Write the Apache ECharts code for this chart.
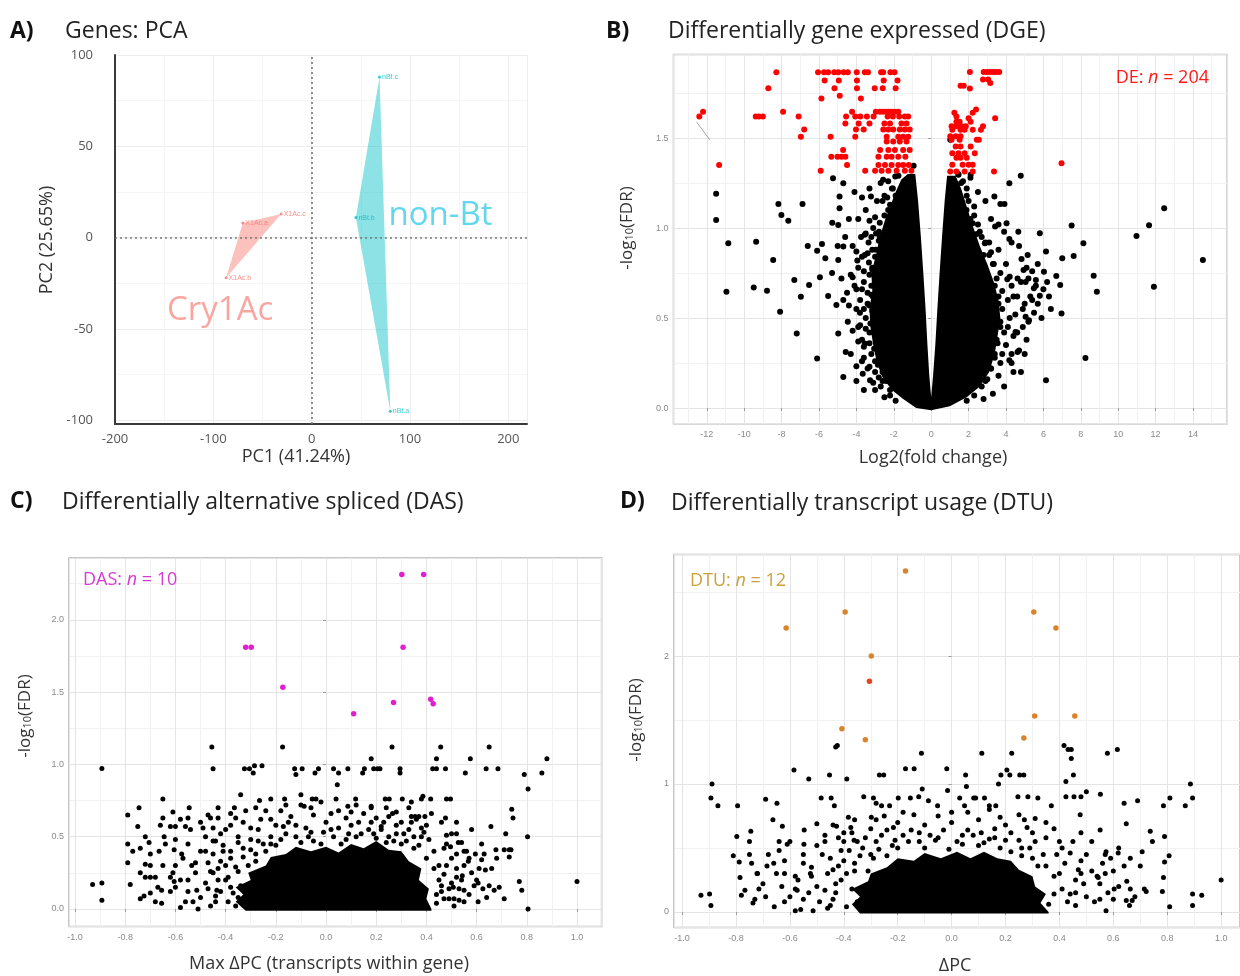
<!DOCTYPE html>
<html><head><meta charset="utf-8">
<script src="https://cdn.jsdelivr.net/npm/echarts@6/dist/echarts.min.js"></script>
<style>html,body{margin:0;padding:0;background:#fff}#c{width:1240px;height:976px}</style>
</head><body><div id="c"></div>
<script>
// ---------- Panel A: PCA ----------
const pcaCry1Ac = [[-70,8,'X1Ac.a'],[-31,13,'X1Ac.c'],[-87,-22,'X1Ac.b']];
const pcaNonBt = [[69,88,'nBt.c'],[45,11,'nBt.b'],[80,-95,'nBt.a']];
const pcaGroupLabels = [[-93,-40,'Cry1Ac'],[131,12,'non-Bt']];
const pcaXTicks = [-200,-100,0,100,200];
const pcaYTicks = [-100,-50,0,50,100];

// ---------- Panel B: DGE volcano ----------
const dgeCore = [[0,-0.012],[-0.8,0.0],[-1.5,0.05],[-2.1,0.1],[-2.6,0.17],[-2.9,0.25],[-3.1,0.35],[-3.25,0.45],[-3.3,0.55],[-3.15,0.65],[-3.2,0.75],[-2.95,0.85],[-2.75,0.95],[-2.45,1.05],[-2.2,1.12],[-1.9,1.2],[-1.6,1.27],[-1.25,1.3],[-0.85,1.3],
[-0.7,1.15],[-0.55,0.95],[-0.42,0.75],[-0.3,0.55],[-0.2,0.35],[-0.1,0.18],[0,0.06],
[0.1,0.18],[0.22,0.35],[0.33,0.55],[0.45,0.75],[0.58,0.95],[0.72,1.15],[0.85,1.29],
[1.3,1.29],[1.6,1.22],[1.9,1.12],[2.2,1.02],[2.6,0.9],[3.0,0.8],[3.35,0.7],[3.6,0.6],[3.7,0.5],[3.55,0.4],[3.4,0.3],[3.1,0.2],[2.6,0.12],[1.9,0.06],[1.0,0.01]];
const dgeBlack = [
[-11.5,1.19],[-11.5,1.045],[-10.85,0.915],[-10.95,0.646],[-9.36,0.924],[-9.49,0.67],[-8.78,0.652],[-8.45,0.822],[-8.17,1.134],[-8.01,1.073],[-7.64,1.04],[-8.08,0.535],[-7.32,0.711],[-6.88,1.134],[-7.19,0.414],[-6.97,0.618],[-6.53,0.683],[-6.6,0.9],[-6.1,0.874],[-5.95,0.726],[-5.84,0.911],[-5.66,0.832],[-6.1,0.275],[-5.25,1.277],[-4.7,1.249],[-4.9,1.175],[-4.9,1.11],[-5.29,1.03],[-4.97,1.017],[-4.7,0.897],[-4.97,0.822],[-5.51,0.622],[-5.07,0.572],[-4.97,0.414],[-4.57,0.312],[-4.7,0.173],[-4.46,0.479],[-4.0,0.232],[-3.66,0.191],[-4.2,0.726],[-3.55,0.962],[-3.33,0.808],[-3.81,0.529],[-3.22,1.175],[-3.11,0.618],[-3.55,0.358],[-3.05,0.447],[-2.79,0.98],[-3.27,0.154],[-2.57,1.268],[-1.92,1.286],[-0.94,1.346],[1.02,1.49],[1.46,1.296],[2.11,1.296],
[1.89,1.1],[2.22,1.027],[2.44,0.967],[2.87,0.915],[3.2,0.865],[3.38,1.175],[3.7,1.134],[3.92,1.134],[4.18,1.249],[4.03,1.027],[4.18,0.939],[3.42,1.008],[4.79,1.29],[4.66,0.98],[4.83,0.828],[5.16,0.85],[4.94,0.767],[4.07,0.715],[5.49,0.665],[5.81,0.624],[5.81,0.971],[6.14,0.869],[6.03,0.757],[6.69,0.733],[6.9,0.683],[6.97,0.525],[7.01,0.832],[7.51,1.014],[7.62,0.845],[8.14,0.915],[8.69,0.735],[8.86,0.646],[8.25,0.278],[6.14,0.154],[10.98,0.956],[11.65,1.015],[11.91,0.674],[12.46,1.11],[14.53,0.822],[5.05,0.507],[5.23,0.488],[4.62,0.312],[4.18,0.265],[4.51,0.423],[5.05,0.7],[5.6,0.711],[4.62,0.72],
[-4.1,1.2],[-3.9,1.05],[-3.7,1.17],[-3.5,1.1],[-3.3,1.22],[-3.1,1.0],[-2.9,1.15],[-2.7,1.25],[-2.5,1.18],[-2.3,1.1],[-2.1,1.22],[-1.9,1.18],
[-4.2,0.9],[-3.95,0.82],[-3.75,0.95],[-3.55,0.85],[-3.35,0.92],[-3.15,0.78],[-2.95,0.88],[-2.75,0.95],[-2.55,0.82],[-2.4,0.92],[-2.25,1.0],[-2.05,0.95],
[-4.0,0.66],[-3.8,0.6],[-3.6,0.7],[-3.4,0.58],[-3.2,0.68],[-3.0,0.75],[-2.8,0.62],[-2.6,0.7],[-2.45,0.65],
[-3.9,0.45],[-3.7,0.38],[-3.5,0.5],[-3.3,0.42],[-3.1,0.52],[-2.9,0.4],[-2.7,0.48],[-2.55,0.36],
[-3.6,0.28],[-3.4,0.22],[-3.2,0.3],[-3.0,0.2],[-2.8,0.27],[-2.6,0.2],[-2.4,0.15],[-2.2,0.1],[-3.0,0.1],[-2.7,0.12],
[1.6,1.25],[1.9,1.18],[2.1,1.28],[2.3,1.12],[2.5,1.2],[2.9,1.15],[3.2,1.05],
[1.9,0.95],[2.1,1.05],[2.4,0.88],[2.6,0.98],[2.8,0.85],[3.1,0.92],[3.3,0.8],[3.6,0.88],
[2.6,0.7],[2.8,0.62],[3.0,0.72],[3.2,0.6],[3.4,0.68],[3.6,0.58],[3.8,0.65],[4.1,0.6],[4.3,0.68],
[2.7,0.5],[2.9,0.42],[3.1,0.52],[3.3,0.45],[3.5,0.38],[3.7,0.48],[3.9,0.42],[4.2,0.5],[4.4,0.4],
[2.6,0.3],[2.8,0.25],[3.0,0.32],[3.2,0.22],[3.4,0.3],[3.7,0.25],[2.4,0.18],[2.2,0.12],[2.9,0.15],
[4.6,0.62],[4.8,0.7],[5.0,0.58],[5.2,0.72],[5.4,0.6],[5.6,0.68],[4.9,0.45],[5.1,0.38],[4.7,0.32],[4.3,0.25],
[-2.3,1.26],[-2.05,1.22],[-1.75,1.29],[-2.6,1.15],[-2.35,1.17],[-2.2,1.13],[-3.0,1.06],[-2.75,1.03],[-2.5,1.07],[-3.3,1.04],
[-3.2,0.95],[-2.95,0.97],[-2.8,0.93],[-3.5,0.97],[-3.4,0.86],[-3.15,0.88],[-3.0,0.84],[-3.7,0.84],[-4.0,0.87],
[-3.6,0.76],[-3.3,0.74],[-3.15,0.77],[-3.9,0.78],[-4.3,0.74],[-3.7,0.66],[-3.4,0.64],[-3.2,0.63],[-4.1,0.68],[-4.5,0.64],
[-3.6,0.55],[-3.3,0.57],[-3.15,0.54],[-4.0,0.55],[-4.4,0.57],[-3.5,0.44],[-3.25,0.47],[-3.1,0.42],[-3.8,0.46],[-4.2,0.43],
[-3.3,0.36],[-3.05,0.33],[-3.6,0.34],[-3.9,0.37],[-3.0,0.26],[-2.85,0.24],[-3.3,0.23],[-3.7,0.26],
[-2.6,0.15],[-2.8,0.17],[-3.1,0.14],[-2.2,0.07],[-2.5,0.06],[-1.9,0.04],
[-4.6,0.95],[-4.4,1.05],[-4.8,0.72],[-5.0,0.9],[-4.3,0.3],[-4.0,0.15],[-3.6,0.1],[-5.3,0.75],[-4.7,0.6],
[1.45,1.3],[1.7,1.26],[1.9,1.22],[2.0,1.15],[2.3,1.07],[2.5,1.02],[2.7,0.95],[2.9,0.92],[3.1,0.85],[3.35,0.8],[3.5,0.72],[3.7,0.75],[3.6,0.62],[3.8,0.55],[3.7,0.45],[3.55,0.36],[3.4,0.28],[3.2,0.22],[3.0,0.16],[2.7,0.12],[2.3,0.07],[1.9,0.04],
[4.0,0.8],[4.2,0.73],[4.4,0.62],[4.5,0.52],[4.1,0.45],[4.0,0.35],[3.8,0.3],[3.6,0.18],[4.3,0.3],[4.6,0.42],[4.9,0.55],[5.2,0.48],[5.5,0.53],[5.7,0.58],[5.9,0.5],[5.3,0.62],[4.7,0.9],[4.3,0.92],[3.9,0.98],[3.6,1.02],[5.1,0.78],[5.4,0.76],[5.7,0.8],[6.0,0.66],[6.3,0.62],[6.4,0.55],[6.2,0.7],[5.0,0.3],[4.4,0.2],[4.8,0.2],[3.9,0.12],[3.3,0.08],[2.8,0.05]
];
const dgeRed = [
[-8.28,1.865],[-6.05,1.865],[-5.73,1.865],[-5.51,1.865],[-5.18,1.865],[-4.97,1.865],[-4.68,1.865],[-4.46,1.865],[-3.98,1.865],[-3.55,1.865],[-3.38,1.865],[-2.68,1.865],[-2.57,1.865],[-2.18,1.865],[-1.96,1.865],
[-5.7,1.82],[-4.94,1.82],[-3.97,1.82],[-2.54,1.82],[-1.8,1.82],
[-8.71,1.776],[-5.17,1.776],[-3.97,1.776],[-3.02,1.776],[-2.59,1.776],[-1.9,1.776],
[-4.89,1.735],[-5.87,1.72],[-3.76,1.72],
[-12.2,1.646],[-7.92,1.646],[-4.23,1.646],[-2.96,1.646],[-2.73,1.646],[-2.56,1.646],[-2.38,1.646],[-2.26,1.646],[-2.12,1.646],[-1.94,1.646],[-1.76,1.646],
[-12.4,1.62],[-9.38,1.62],[-9.21,1.62],[-9.0,1.62],[-7.09,1.62],[-4.55,1.62],[-4.06,1.62],[-3.79,1.62],[-3.44,1.62],[-3.08,1.62],[-2.33,1.62],[-2.05,1.62],[-1.71,1.62],[-1.41,1.62],[-1.23,1.62],
[-4.59,1.58],[-3.88,1.58],[-3.3,1.58],[-2.5,1.58],[-2.2,1.58],[-1.59,1.58],[-1.32,1.58],
[-6.79,1.548],[-4.02,1.548],[-3.61,1.548],[-2.56,1.548],[-2.29,1.548],[-2.03,1.548],[-1.68,1.548],[-1.41,1.548],[-1.15,1.548],
[-6.97,1.507],[-5.38,1.507],[-4.06,1.507],[-2.38,1.507],[-1.76,1.507],[-1.5,1.507],[-1.23,1.507],
[-2.38,1.48],[-2.03,1.48],[-1.68,1.48],[-1.32,1.48],
[-4.71,1.433],[-2.73,1.433],[-2.29,1.433],[-1.94,1.433],[-1.5,1.433],[-1.15,1.433],
[-5.34,1.396],[-5.01,1.396],[-4.8,1.396],[-4.59,1.396],[-2.82,1.396],[-2.38,1.396],[-2.12,1.396],[-1.76,1.396],[-1.38,1.396],
[-11.34,1.35],[-4.5,1.35],[-2.82,1.35],[-2.47,1.35],[-2.12,1.35],[-1.76,1.35],[-1.5,1.35],[-1.2,1.35],
[-5.91,1.318],[-3.53,1.318],[-3.0,1.318],[-2.65,1.318],[-2.29,1.318],[-1.85,1.318],[-1.41,1.318],[-1.06,1.318],
[2.07,1.867],[2.81,1.867],[2.98,1.867],[3.16,1.867],[3.33,1.867],[3.49,1.867],[3.64,1.867],
[2.77,1.825],[3.05,1.825],[3.16,1.806],[1.57,1.79],[1.74,1.79],[2.07,1.775],[2.4,1.658],
[1.24,1.64],[1.35,1.62],[2.0,1.61],[2.22,1.64],[3.42,1.61],
[1.35,1.59],[1.52,1.59],[2.11,1.59],
[1.09,1.565],[1.35,1.565],[1.63,1.565],[1.85,1.565],[2.77,1.565],
[1.13,1.546],[1.57,1.546],[1.79,1.546],[2.22,1.546],[2.66,1.546],
[1.02,1.51],[1.31,1.51],[1.57,1.51],
[1.09,1.49],[1.52,1.49],[2.44,1.49],[2.55,1.49],
[1.31,1.453],[1.57,1.453],[2.11,1.453],
[1.13,1.416],[1.46,1.416],[1.79,1.416],[2.33,1.416],
[1.35,1.39],[1.57,1.39],[1.9,1.39],
[1.13,1.351],[1.68,1.351],[2.0,1.351],[2.22,1.351],
[1.02,1.314],[1.35,1.314],[1.79,1.314],[2.22,1.314],[3.36,1.314],
[6.97,1.36]
];
const dgeLeader = [[-12.55,1.59],[-11.84,1.49]];

// ---------- Panel C: DAS ----------
const dasCore = [[-0.32,-0.012],[-0.36,0.05],[-0.33,0.1],[-0.36,0.15],[-0.3,0.2],[-0.31,0.25],[-0.24,0.3],[-0.22,0.36],[-0.16,0.38],[-0.12,0.43],[-0.06,0.4],[0.0,0.43],[0.05,0.39],[0.1,0.45],[0.15,0.42],[0.2,0.47],[0.25,0.41],[0.3,0.4],[0.33,0.33],[0.38,0.28],[0.37,0.2],[0.41,0.14],[0.4,0.07],[0.42,0.0],[0.42,-0.012]];
const dasBlack = [
[-0.893,0.971],[-0.893,0.18],[-0.893,0.06],[-0.93,0.17],[-0.79,0.65],[-0.79,0.45],[-0.79,0.32],[-0.78,0.17],[-0.745,0.70],[-0.75,0.57],[-0.74,0.42],[-0.72,0.31],[-0.705,0.46],[-0.72,0.22],[-0.70,0.22],[-0.68,0.22],[-0.74,0.07],[-0.725,0.09],[-0.70,0.11],[-0.665,0.40],[-0.65,0.76],[-0.65,0.63],[-0.645,0.50],[-0.655,0.13],[-0.655,0.04],[-0.62,0.57],[-0.61,0.67],[-0.60,0.57],[-0.605,0.41],[-0.61,0.25],[-0.605,0.19],[-0.58,0.01],[-0.575,0.38],[-0.56,0.57],[-0.545,0.70],[-0.55,0.63],[-0.535,0.30],[-0.51,0.0],[-0.515,0.13],[-0.49,0.56],[-0.48,0.40],[-0.455,1.12],[-0.45,0.97],[-0.46,0.63],[-0.43,0.63],[-0.44,0.47],[-0.45,0.25],[-0.435,0.13],[-0.365,0.70],[-0.36,0.63],[-0.34,0.79],[-0.325,0.97],[-0.305,0.97],[-0.285,0.99],[-0.255,0.99],[-0.29,0.94],[-0.265,0.75],[-0.22,0.76],[-0.173,1.12],[-0.165,0.76],[-0.125,0.97],[-0.095,0.97],[-0.12,0.93],[-0.10,0.79],[-0.087,0.71],[-0.044,0.94],[-0.03,0.97],[-0.055,0.76],[-0.04,0.76],[0.03,0.97],[0.05,0.94],[0.045,0.86],[0.04,0.76],[0.087,0.97],[0.087,0.71],[0.118,0.76],[0.146,0.94],[0.153,0.97],[0.18,1.04],[0.19,0.97],[0.205,0.97],[0.215,0.97],[0.18,0.71],[0.22,0.57],[0.236,0.76],[0.252,0.76],[0.263,1.12],[0.265,0.66],[0.295,0.97],[0.295,0.94],[0.304,0.76],[0.34,0.74],[0.34,0.64],[0.355,0.64],[0.37,0.64],[0.38,0.76],[0.386,0.78],[0.394,0.64],[0.39,0.53],[0.417,0.76],[0.425,0.97],[0.44,0.97],[0.44,1.04],[0.457,1.12],[0.476,0.97],[0.476,0.63],[0.48,0.76],[0.496,0.76],[0.48,0.51],[0.52,0.52],[0.496,0.43],[0.527,0.46],[0.55,0.40],[0.555,0.94],[0.575,1.04],[0.567,0.33],[0.543,0.23],[0.507,0.15],[0.51,0.07],[0.53,0.06],[0.55,0.13],[0.595,0.38],[0.606,0.05],[0.606,0.18],[0.62,0.34],[0.625,0.14],[0.635,0.27],[0.638,0.97],[0.65,1.12],[0.657,0.57],[0.677,0.41],[0.67,0.13],[0.69,0.15],[0.685,0.97],[0.71,0.41],[0.73,0.41],[0.71,0.07],[0.716,0.52],[0.73,0.36],[0.74,0.69],[0.745,0.63],[0.737,0.41],[0.77,0.19],[0.78,0.13],[0.79,0.93],[0.805,0.83],[0.803,0.50],[0.805,0.0],[0.86,0.94],[0.88,1.04],[1.0,0.19],
[-0.44,0.05],[-0.42,0.12],[-0.40,0.2],[-0.43,0.28],[-0.38,0.35],[-0.41,0.4],[-0.36,0.02],[-0.38,0.15],[-0.35,0.26],[-0.33,0.42],[-0.3,0.48],[-0.28,0.38],[-0.25,0.45],[-0.22,0.5],[-0.18,0.48],[-0.12,0.5],[-0.05,0.47],[0.03,0.5],[0.08,0.48],[0.14,0.52],[0.25,0.5],[0.3,0.45],[0.35,0.42],[0.4,0.35],[0.43,0.28],[0.45,0.2],[0.46,0.12],[0.44,0.04],[0.48,0.3],[0.5,0.18],[0.52,0.38],[0.47,0.42],[-0.48,0.18],[-0.47,0.32],[-0.5,0.08],[-0.52,0.25],[-0.5,0.4],[-0.2,0.58],[-0.15,0.6],[-0.08,0.56],[0.0,0.6],[0.1,0.58],[0.18,0.6],[0.22,0.55],[0.28,0.58],[0.33,0.55],[-0.3,0.56],[-0.26,0.62],[-0.35,0.5],[-0.4,0.55],[-0.45,0.47],[0.38,0.5],[0.4,0.58],[-0.05,0.65],[0.05,0.68],[0.15,0.66],[-0.18,0.68],[0.25,0.64],[-0.55,0.12],[-0.6,0.3],[0.55,0.05],[0.58,0.25],
[-0.46,0.02],[-0.44,0.09],[-0.47,0.14],[-0.43,0.2],[-0.46,0.26],[-0.42,0.33],[-0.45,0.38],[-0.41,0.44],[-0.39,0.05],[-0.37,0.11],[-0.39,0.22],[-0.36,0.29],[-0.38,0.4],[-0.35,0.46],[-0.33,0.03],[-0.34,0.16],[-0.31,0.3],[-0.33,0.36],[-0.3,0.41],[-0.28,0.33],[-0.27,0.47],[-0.24,0.4],[-0.4,0.3],[-0.35,0.08],
[-0.2,0.44],[-0.16,0.52],[-0.1,0.46],[-0.06,0.53],[-0.02,0.45],[0.02,0.55],[0.06,0.45],[0.12,0.5],[0.17,0.55],[0.2,0.49],[0.24,0.46],[0.28,0.52],[0.32,0.47],[0.35,0.5],[0.37,0.44],[-0.14,0.64],[0.08,0.63],[0.2,0.63],[0.3,0.6],[-0.22,0.62],[0.36,0.62],[-0.1,0.72],[0.12,0.72],[-0.02,0.74],[0.24,0.7],[-0.28,0.7],
[0.44,0.1],[0.46,0.16],[0.45,0.3],[0.47,0.24],[0.49,0.07],[0.5,0.35],[0.52,0.22],[0.53,0.14],[0.51,0.02],[0.48,0.45],[0.55,0.3],[0.57,0.1],[0.56,0.4],[0.6,0.2],[0.62,0.45],[0.58,0.55],[0.64,0.08],[0.66,0.28],[0.68,0.35],[0.52,0.6],
[-0.55,0.45],[-0.58,0.2],[-0.62,0.12],[-0.65,0.3],[-0.68,0.05],[-0.52,0.32],[-0.56,0.05],[-0.7,0.38],[-0.6,0.48],[-0.54,0.55],[-0.66,0.58],
[-0.42,0.52],[-0.38,0.58],[-0.33,0.6],[-0.27,0.55],[-0.22,0.45],[-0.17,0.57],[-0.12,0.58],[-0.07,0.5],[-0.01,0.53],[0.05,0.56],[0.09,0.52],[0.13,0.6],[0.19,0.52],[0.23,0.6],[0.27,0.47],[0.31,0.52],[0.34,0.6],[0.38,0.56],[0.41,0.48],[0.43,0.4],[-0.45,0.56],[-0.48,0.5],[-0.5,0.6],[-0.47,0.65],[-0.43,0.7],[-0.38,0.66],[-0.32,0.68],[-0.24,0.68],[-0.16,0.72],[-0.06,0.7],[0.02,0.66],[0.1,0.67],[0.18,0.7],[0.28,0.67],[0.33,0.7],[0.42,0.66],[0.46,0.6],[0.5,0.52],[0.54,0.46],[0.57,0.35],[0.59,0.16],[0.61,0.28],[0.63,0.38],[0.65,0.16],[0.47,0.07],[0.49,0.14],[0.52,0.28],[0.54,0.2],[-0.53,0.05],[-0.55,0.2],[-0.57,0.35],[-0.6,0.15],[-0.62,0.22],[-0.64,0.45],[-0.67,0.15],[-0.7,0.3],[-0.74,0.25],[-0.77,0.4],[-0.72,0.5],[-0.58,0.62]
];
const dasSig = [[-0.32,1.811],[-0.298,1.811],[-0.172,1.533],[0.11,1.351],[0.269,1.429],[0.302,2.313],[0.307,1.811],[0.389,2.313],[0.417,1.45],[0.427,1.42]];

// ---------- Panel D: DTU ----------
const dtuCore = [[-0.34,-0.012],[-0.37,0.06],[-0.34,0.12],[-0.37,0.18],[-0.31,0.24],[-0.3,0.3],[-0.24,0.35],[-0.2,0.42],[-0.14,0.4],[-0.1,0.46],[-0.04,0.42],[0.02,0.47],[0.07,0.42],[0.12,0.47],[0.17,0.42],[0.22,0.4],[0.25,0.33],[0.3,0.28],[0.31,0.2],[0.35,0.14],[0.33,0.07],[0.36,0.0],[0.36,-0.012]];
const dtuBlack = [
[-0.889,1.0],[-0.893,0.89],[-0.867,0.83],[-0.898,0.14],[-0.893,0.05],[-0.93,0.13],[-0.794,0.83],[-0.797,0.59],[-0.81,0.44],[-0.788,0.39],[-0.785,0.27],[-0.78,0.13],[-0.767,0.17],[-0.745,0.63],[-0.75,0.55],[-0.742,0.38],[-0.722,0.30],[-0.737,0.07],[-0.715,0.18],[-0.69,0.88],[-0.685,0.36],[-0.663,0.72],[-0.658,0.04],[-0.648,0.85],[-0.64,0.48],[-0.628,0.67],[-0.62,0.30],[-0.61,0.53],[-0.585,1.11],[-0.58,0.01],[-0.573,0.17],[-0.547,0.64],[-0.548,0.53],[-0.53,1.04],[-0.514,0.01],[-0.524,0.30],[-0.5,0.69],[-0.484,0.89],[-0.47,0.55],[-0.453,1.07],[-0.447,0.89],[-0.435,0.83],[-0.427,0.67],[-0.43,1.29],[-0.424,1.30],[-0.389,1.04],[-0.383,0.74],[-0.374,0.66],[-0.362,0.56],[-0.326,0.90],[-0.298,0.74],[-0.29,0.89],[-0.28,0.85],[-0.26,0.83],[-0.268,1.07],[-0.252,1.07],[-0.23,0.83],[-0.216,0.66],[-0.198,0.89],[-0.171,1.12],[-0.139,1.12],[-0.153,0.89],[-0.122,0.90],[-0.112,1.24],[-0.109,0.96],[-0.086,0.87],[-0.052,0.83],[-0.018,1.12],[-0.015,0.95],[0.03,0.89],[0.048,0.83],[0.052,1.07],[0.055,0.98],[0.082,0.89],[0.089,0.89],[0.112,1.24],[0.122,0.89],[0.14,0.83],[0.164,0.83],[0.174,1.0],[0.183,1.07],[0.205,1.11],[0.223,1.24],[0.216,1.07],[0.246,0.90],[0.253,1.07],[0.268,1.07],[0.283,0.90],[0.31,0.73],[0.32,0.89],[0.37,0.83],[0.417,1.30],[0.432,1.27],[0.444,1.27],[0.444,1.20],[0.452,1.07],[0.424,1.02],[0.424,0.90],[0.454,0.90],[0.477,0.76],[0.48,0.90],[0.5,0.94],[0.552,0.92],[0.578,1.24],[0.615,1.27],[0.64,0.85],[0.648,0.69],[0.69,0.87],[0.737,0.63],[0.745,0.55],[0.786,0.83],[0.81,0.89],[0.79,0.59],[0.807,0.44],[0.79,0.39],[0.786,0.27],[0.782,0.16],[0.809,0.04],[0.867,0.83],[0.886,1.0],[0.894,0.89],[0.894,0.14],[0.894,0.05],[0.928,0.13],[1.0,0.25],[0.715,0.18],[0.722,0.16],[0.663,0.18],[0.603,0.18],[0.573,0.01],[0.544,0.27],[0.551,0.64],[0.573,0.47],[0.618,0.46],[0.663,0.42],[0.707,0.47],[0.648,0.09],[0.67,0.09],
[-0.45,0.05],[-0.43,0.15],[-0.41,0.25],[-0.44,0.33],[-0.4,0.4],[-0.38,0.48],[-0.36,0.32],[-0.35,0.55],[-0.3,0.45],[-0.28,0.55],[-0.22,0.52],[-0.18,0.6],[-0.12,0.55],[-0.05,0.58],[0.02,0.55],[0.08,0.6],[0.12,0.54],[0.2,0.56],[0.26,0.5],[0.3,0.42],[0.35,0.36],[0.38,0.28],[0.41,0.18],[0.43,0.08],[0.46,0.25],[0.48,0.4],[0.44,0.46],[0.5,0.12],[0.52,0.32],[-0.5,0.2],[-0.52,0.35],[-0.48,0.45],[-0.55,0.1],[-0.3,0.65],[-0.2,0.7],[-0.1,0.68],[0.0,0.7],[0.1,0.72],[0.2,0.68],[0.3,0.62],[0.35,0.7],[0.4,0.55],[-0.4,0.62],[-0.25,0.75],[0.25,0.76],[-0.58,0.28],[0.55,0.22],[0.57,0.45],[-0.62,0.4],[0.6,0.1],
[-0.46,0.03],[-0.44,0.1],[-0.47,0.17],[-0.43,0.22],[-0.46,0.3],[-0.42,0.36],[-0.45,0.42],[-0.41,0.48],[-0.39,0.04],[-0.37,0.18],[-0.39,0.3],[-0.36,0.38],[-0.34,0.44],[-0.33,0.5],[-0.35,0.08],[-0.31,0.32],[-0.29,0.42],[-0.27,0.49],[-0.24,0.44],[-0.4,0.55],
[-0.2,0.5],[-0.16,0.55],[-0.1,0.5],[-0.06,0.56],[-0.01,0.49],[0.04,0.53],[0.1,0.52],[0.14,0.57],[0.18,0.5],[0.22,0.47],[0.26,0.44],[0.29,0.5],[0.32,0.36],[0.34,0.45],[-0.12,0.62],[0.06,0.64],[0.16,0.65],[-0.24,0.64],[0.28,0.66],[0.0,0.78],[-0.14,0.76],[0.14,0.8],
[0.36,0.06],[0.38,0.14],[0.4,0.3],[0.42,0.38],[0.44,0.14],[0.46,0.05],[0.47,0.33],[0.49,0.22],[0.5,0.45],[0.53,0.08],[0.54,0.28],[0.56,0.38],[0.58,0.15],[0.6,0.32],[0.62,0.5],[0.65,0.24],[0.68,0.12],[0.7,0.36],
[-0.55,0.45],[-0.58,0.18],[-0.62,0.08],[-0.65,0.3],[-0.68,0.45],[-0.52,0.28],[-0.56,0.02],[-0.7,0.22],[-0.6,0.55],[-0.73,0.1],
[-0.42,0.58],[-0.37,0.62],[-0.32,0.58],[-0.26,0.6],[-0.21,0.56],[-0.15,0.64],[-0.08,0.6],[-0.03,0.64],[0.04,0.6],[0.11,0.62],[0.16,0.58],[0.22,0.62],[0.25,0.56],[0.31,0.55],[0.35,0.58],[0.39,0.45],[0.41,0.5],[0.45,0.55],[-0.47,0.6],[-0.5,0.52],[-0.44,0.68],[-0.36,0.72],[-0.28,0.72],[-0.18,0.78],[-0.05,0.75],[0.06,0.78],[0.18,0.74],[0.27,0.72],[0.38,0.65],[0.48,0.62],[0.52,0.55],[0.55,0.1],[0.57,0.3],[0.59,0.42],[0.62,0.2],[0.64,0.36],[0.66,0.05],[0.46,0.15],[0.48,0.3],[-0.53,0.15],[-0.55,0.38],[-0.57,0.25],[-0.6,0.12],[-0.63,0.2],[-0.66,0.38],[-0.69,0.12],[-0.72,0.3],[-0.75,0.45],[-0.64,0.55],[-0.49,0.08]
];
const dtuSig = [[-0.614,2.219],[-0.395,2.344],[-0.171,2.664],[-0.298,2.0],[-0.407,1.432],[-0.32,1.346],[0.305,2.344],[0.387,2.219],[0.308,1.531],[0.457,1.531],[0.268,1.359]];
const dtuSigRed = [[-0.305,1.802]];

// ---------- build chart ----------
const FONT = '"Open Sans", "Noto Sans", sans-serif';
const TICKF = '"Liberation Sans", Arial, sans-serif';
const chart = echarts.init(document.getElementById('c'), null, {renderer:'canvas'});

function poly(idx, verts, color, z) {
  return {type:'custom', xAxisIndex:idx, yAxisIndex:idx, data:[verts[0].slice(0,2)], silent:true, z:z||2, clip:true, animation:false,
    renderItem:(p, api) => ({type:'polygon', shape:{points: verts.map(v => api.coord([v[0], v[1]]))}, style:{fill: color}})};
}
function sc(idx, data, color, size, z) {
  return {type:'scatter', xAxisIndex:idx, yAxisIndex:idx, data, symbolSize:size, itemStyle:{color, opacity:1}, silent:true, z:z||3, animation:false, large:false};
}
const fmt1 = v => (Math.abs(v*10 - Math.round(v*10)) < 1e-6 ? v.toFixed(1) : '');
const fmtInt = v => (Math.abs(v - Math.round(v)) < 1e-6 ? String(Math.round(v)) : '');
function boxAxis(idx, min, max, split, fmt, isY) {
  return {gridIndex:idx, type:'value', min, max, splitNumber:split,
    axisLine:{show:false}, axisTick:{show:true, length:3, lineStyle:{color:'#9a9a9a'}},
    axisLabel:{color:'#8a8a8a', fontSize:9, fontFamily:TICKF, margin:isY?5:6, showMinLabel:false, showMaxLabel:false, formatter:fmt},
    splitLine:{show:true, lineStyle:{color:'#e4e4e4', width:1}},
    minorTick:{show:false, splitNumber:2}, minorSplitLine:{show:true, lineStyle:{color:'#f1f1f1', width:1}}};
}
function txt(x, y, text, font, fill, extra) {
  return Object.assign({type:'text', x, y, z:100, style:Object.assign({text, font, fill, verticalAlign:'middle'}, extra && extra.style)}, extra && extra.el);
}
function ylab(x, y) {
  return {type:'text', x, y, z:100, rotation:Math.PI/2, style:{text:'{a|-log}{s|10}{a|(FDR)}', align:'center', verticalAlign:'middle',
    rich:{a:{fontSize:17, fontFamily:FONT, fill:'#333'}, s:{fontSize:11, fontFamily:FONT, fill:'#333', verticalAlign:'bottom', padding:[6,0,0,0]}}}};
}
function annot(x, y, pre, post, color, alignR) {
  return {type:'text', x, y, z:100, style:{text:'{a|'+pre+'}{i|n}{a|'+post+'}', align: alignR ? 'right' : 'left', verticalAlign:'middle',
    rich:{a:{fontSize:18, fontFamily:FONT, fill:color}, i:{fontSize:18, fontStyle:'italic', fontFamily:FONT, fill:color}}}};
}

const option = {
  backgroundColor:'#ffffff',
  animation:false,
  grid:[
    {left:115, right:713, top:55, bottom:552, show:false},
    {left:673.5, right:12.8, top:54.5, bottom:552.3, show:true, borderColor:'#b5b5b5', borderWidth:1.5, backgroundColor:'#fff'},
    {left:69, right:638.4, top:558, bottom:49.4, show:true, borderColor:'#b5b5b5', borderWidth:1.5, backgroundColor:'#fff'},
    {left:674, right:-4, top:554.4, bottom:48.4, show:true, borderColor:'#b5b5b5', borderWidth:1.5, backgroundColor:'#fff'}
  ],
  xAxis:[
    {gridIndex:0, type:'value', min:pcaXTicks[0], max:219, interval:100,
      axisLine:{show:true, onZero:false, lineStyle:{color:'#3a3a3a', width:2}}, axisTick:{show:false},
      axisLabel:{color:'#555', fontSize:13, fontFamily:FONT, margin:9, showMaxLabel:false},
      splitLine:{lineStyle:{color:'#ededed'}}, minorTick:{show:false, splitNumber:2}, minorSplitLine:{show:true, lineStyle:{color:'#f6f6f6'}}},
    boxAxis(1, -13.78, 15.83, 15, fmtInt, false),
    boxAxis(2, -1.024, 1.098, 10, fmt1, false),
    boxAxis(3, -1.03, 1.07, 10, fmt1, false)
  ],
  yAxis:[
    {gridIndex:0, type:'value', min:-102, max:pcaYTicks[4], splitNumber:4,
      axisLine:{show:true, onZero:false, lineStyle:{color:'#3a3a3a', width:2}}, axisTick:{show:false},
      axisLabel:{color:'#555', fontSize:13, fontFamily:FONT, margin:22, showMinLabel:false},
      splitLine:{lineStyle:{color:'#ededed'}}, minorTick:{show:false, splitNumber:2}, minorSplitLine:{show:true, lineStyle:{color:'#f6f6f6'}}},
    boxAxis(1, -0.087, 1.964, 4, fmt1, true),
    boxAxis(2, -0.122, 2.428, 5, fmt1, true),
    boxAxis(3, -0.122, 2.794, 3, fmtInt, true)
  ],
  series:[
    {type:'line', xAxisIndex:0, yAxisIndex:0, data:[], silent:true,
      markLine:{silent:true, symbol:'none', label:{show:false}, lineStyle:{color:'#777', type:[2,3], width:1.6},
        data:[{xAxis:0},{yAxis:0}]}},
    poly(0, pcaCry1Ac, 'rgba(248,118,109,0.45)', 2),
    poly(0, pcaNonBt, 'rgba(0,191,196,0.45)', 2),
    {type:'scatter', xAxisIndex:0, yAxisIndex:0, data:pcaCry1Ac, symbolSize:3, itemStyle:{color:'#F8766D'}, silent:true, z:4,
      label:{show:true, position:'right', distance:1, formatter:p => p.data[2], color:'#F8766D', fontSize:7, fontFamily:TICKF}},
    {type:'scatter', xAxisIndex:0, yAxisIndex:0, data:pcaNonBt, symbolSize:3, itemStyle:{color:'#00BFC4'}, silent:true, z:4,
      label:{show:true, position:'right', distance:1, formatter:p => p.data[2], color:'#00BFC4', fontSize:7, fontFamily:TICKF}},
    {type:'scatter', xAxisIndex:0, yAxisIndex:0, symbolSize:0, silent:true, z:5,
      data: pcaGroupLabels.map((d, i) => ({value:d, label:{color: i === 0 ? '#F7908A' : '#3CCDEA'}})),
      label:{show:true, position:'inside', formatter:p => p.value[2], fontSize:33, fontFamily:FONT},
      itemStyle:{color:'transparent'}},
    poly(1, dgeCore, '#000', 2),
    sc(1, dgeBlack, '#000', 6, 3),
    sc(1, dgeRed, '#FF0000', 6, 4),
    {type:'line', xAxisIndex:1, yAxisIndex:1, data:dgeLeader, symbol:'none', lineStyle:{color:'#a8a8a8', width:1}, silent:true, z:3},
    poly(2, dasCore, '#000', 2),
    sc(2, dasBlack, '#000', 5, 3),
    sc(2, dasSig, '#E21FCF', 5.5, 4),
    poly(3, dtuCore, '#000', 2),
    sc(3, dtuBlack, '#000', 5, 3),
    sc(3, dtuSig, '#D9832A', 5.5, 4),
    sc(3, dtuSigRed, '#E8431F', 5.5, 4)
  ],
  graphic:[
    txt(10, 31, 'A)', 'bold 23px '+FONT, '#111'),
    txt(65, 31, 'Genes: PCA', '23px '+FONT, '#222'),
    txt(606, 31, 'B)', 'bold 23px '+FONT, '#111'),
    txt(668, 31, 'Differentially gene expressed (DGE)', '23px '+FONT, '#222'),
    txt(10, 501, 'C)', 'bold 23px '+FONT, '#111'),
    txt(62, 502, 'Differentially alternative spliced (DAS)', '23px '+FONT, '#222'),
    txt(620, 501, 'D)', 'bold 23px '+FONT, '#111'),
    txt(671, 503, 'Differentially transcript usage (DTU)', '23px '+FONT, '#222'),
    txt(296, 457, 'PC1 (41.24%)', '18px '+FONT, '#333', {style:{align:'center'}}),
    txt(47, 240, 'PC2 (25.65%)', '18px '+FONT, '#333', {style:{align:'center'}, el:{rotation:Math.PI/2}}),
    txt(933, 458, 'Log2(fold change)', '18px '+FONT, '#333', {style:{align:'center'}}),
    txt(329, 964, 'Max \u0394PC (transcripts within gene)', '18px '+FONT, '#333', {style:{align:'center'}}),
    txt(955, 966, '\u0394PC', '18px '+FONT, '#333', {style:{align:'center'}}),
    ylab(627, 228), ylab(25, 716), ylab(636, 720),
    annot(1209, 78, 'DE: ', ' = 204', '#FF1A1A', true),
    annot(83, 580, 'DAS: ', ' = 10', '#D63BD2', false),
    annot(690, 581, 'DTU: ', ' = 12', '#C9A23C', false)
  ]
};
chart.setOption(option);
</script>
</body></html>
